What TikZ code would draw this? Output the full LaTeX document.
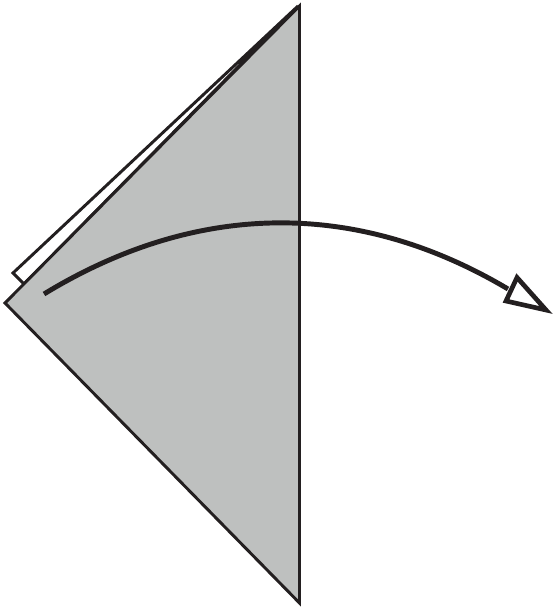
\documentclass[tikz,border=0pt]{standalone}
\usepackage{tikz}
\definecolor{ink}{HTML}{231F20}
\definecolor{paper}{HTML}{BEC0BF}
\begin{document}
\begin{tikzpicture}[x=0.75pt,y=-0.75pt,
  edge/.style={draw=ink,line width=2.2pt,line join=miter},
  foldarrow/.style={draw=ink,line width=3.7pt},
  arrowhead/.style={draw=ink,fill=white,line width=3.5pt,line join=miter}]
\useasboundingbox (0,0) rectangle (553,609);
% back white flap
\coordinate (fa) at (13,273);
\coordinate (fb) at (298,6);
\coordinate (fc) at (24,284);
\draw[edge,fill=white] (fa) -- (fb) -- (fc) -- cycle;
% front gray triangle
\coordinate (top) at (299.5,6);
\coordinate (left) at (5,303);
\coordinate (bot) at (299.5,603);
\draw[edge,fill=paper] (top) -- (left) -- (bot) -- cycle;
% fold arrow
\coordinate (s) at (44,294);
\coordinate (e) at (508,289);
\draw[foldarrow] (s) .. controls (200,199) and (360,201) .. (e);
\coordinate (h1) at (517,277.5);
\coordinate (h2) at (506,301);
\coordinate (h3) at (546,310);
\draw[arrowhead] (h1) -- (h2) -- (h3) -- cycle;
\end{tikzpicture}
\end{document}
